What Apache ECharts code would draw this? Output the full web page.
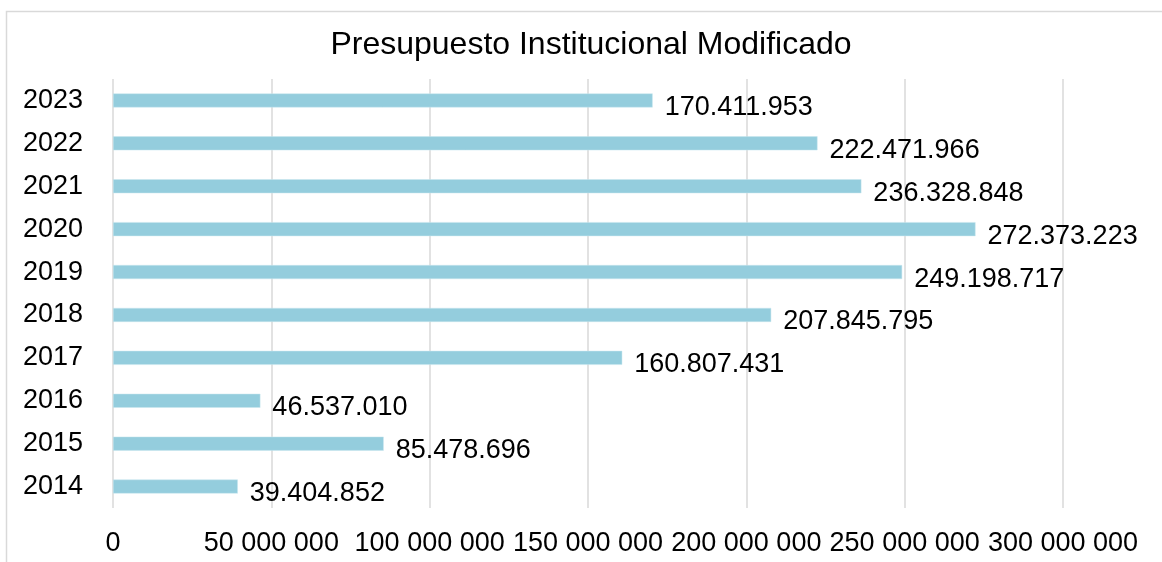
<!DOCTYPE html>
<html>
<head>
<meta charset="utf-8">
<script src="https://cdn.jsdelivr.net/npm/echarts@6/dist/echarts.min.js"></script>
<style>
html,body{margin:0;padding:0;background:#fff;}
#chart{width:1162px;height:562px;}
</style>
</head>
<body>
<div id="chart"></div>
<script>
const titleText = 'Presupuesto Institucional Modificado';
const years = ['2014','2015','2016','2017','2018','2019','2020','2021','2022','2023'];
const budget = [39404852, 85478696, 46537010, 160807431, 207845795, 249198717, 272373223, 236328848, 222471966, 170411953];
const axisMax = 300000000;
const axisStep = 50000000;

function groupDigits(v, sep) {
  return String(Math.round(v)).replace(/\B(?=(\d{3})+(?!\d))/g, sep);
}

const FONT = '"Liberation Sans", Arial, sans-serif';
const chart = echarts.init(document.getElementById('chart'), null, {renderer: 'canvas'});
chart.setOption({
  animation: false,
  backgroundColor: '#ffffff',
  title: {
    text: titleText,
    left: 586,
    top: 24,
    textAlign: 'center',
    textStyle: {fontFamily: FONT, fontSize: 32, fontWeight: 'normal', color: '#000000'}
  },
  graphic: [{
    type: 'rect',
    shape: {x: 6.5, y: 11.5, width: 1200, height: 600},
    style: {fill: 'none', stroke: '#d9d9d9', lineWidth: 1.5},
    silent: true
  }],
  grid: {left: 113, right: 99, top: 79, bottom: 54, containLabel: false},
  xAxis: {
    type: 'value',
    min: 0,
    max: axisMax,
    interval: axisStep,
    axisLine: {show: false},
    axisTick: {show: false},
    splitLine: {show: true, lineStyle: {color: '#d9d9d9', width: 1.5}},
    axisLabel: {
      fontFamily: FONT, fontSize: 27, color: '#000000', margin: 22,
      formatter: v => groupDigits(v, ' ')
    }
  },
  yAxis: {
    type: 'category',
    data: years,
    axisLine: {show: false},
    axisTick: {show: false},
    axisLabel: {fontFamily: FONT, fontSize: 27, color: '#000000', margin: 30, padding: [15, 0, 0, 0]}
  },
  series: [{
    type: 'bar',
    data: budget,
    barWidth: 14,
    itemStyle: {color: '#94cddd', borderColor: '#c9e6ef', borderWidth: 0.5},
    label: {
      show: true,
      position: 'right',
      distance: 12,
      offset: [0, 7],
      fontFamily: FONT, fontSize: 27, color: '#000000',
      formatter: p => groupDigits(p.value, '.')
    }
  }]
});
</script>
</body>
</html>
